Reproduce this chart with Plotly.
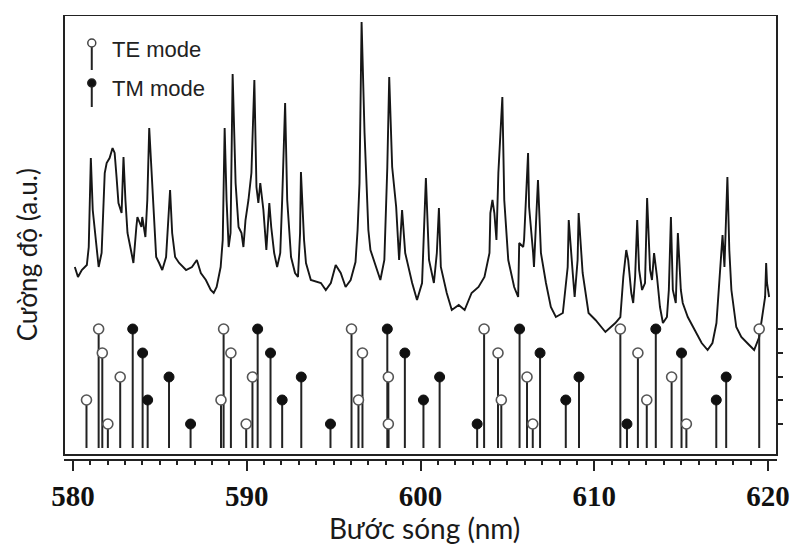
import plotly.graph_objects as go

# ---------------- data ----------------
# Emission spectrum (wavelength in nm, intensity in a.u.)
spec_wl = [580.11, 580.29, 580.51, 580.80, 580.91, 581.03, 581.14, 581.37, 581.48, 581.65,
           581.83, 581.94, 582.11, 582.28, 582.40, 582.51, 582.62, 582.80, 582.91, 583.02,
           583.14, 583.37, 583.48, 583.65, 583.71, 583.94, 583.99, 584.17, 584.28, 584.39,
           584.51, 584.68, 584.79, 584.96, 585.14, 585.36, 585.48, 585.59, 585.71, 585.88,
           586.11, 586.51, 586.85, 587.13, 587.36, 587.65, 587.93, 588.10, 588.27, 588.50,
           588.62, 588.73, 588.84, 588.96, 589.07, 589.19, 589.36, 589.53, 589.70, 589.81,
           589.93, 590.10, 590.27, 590.44, 590.56, 590.67, 590.78, 590.96, 591.13, 591.30,
           591.41, 591.58, 591.75, 591.93, 592.04, 592.21, 592.33, 592.55, 592.78, 592.95,
           593.07, 593.12, 593.30, 593.41, 593.69, 594.27, 594.55, 594.84, 595.12, 595.41,
           595.69, 595.98, 596.26, 596.38, 596.49, 596.61, 596.78, 597.00, 597.12, 597.52,
           597.69, 597.92, 598.09, 598.20, 598.37, 598.60, 598.77, 598.94, 599.12, 599.52,
           599.80, 600.09, 600.20, 600.31, 600.49, 600.77, 600.94, 601.06, 601.17, 601.51,
           601.80, 602.20, 602.54, 602.94, 603.34, 603.68, 603.97, 604.02, 604.14, 604.25,
           604.37, 604.48, 604.71, 604.82, 605.05, 605.39, 605.62, 605.68, 605.91, 605.96,
           606.19, 606.25, 606.48, 606.53, 606.76, 606.93, 607.22, 607.50, 607.79, 608.19,
           608.47, 608.53, 608.76, 608.87, 609.04, 609.10, 609.33, 609.67, 610.07, 610.64,
           611.21, 611.50, 611.67, 611.84, 611.95, 612.13, 612.24, 612.35, 612.47, 612.58,
           612.75, 612.92, 613.04, 613.21, 613.32, 613.44, 613.61, 613.78, 613.95, 614.18,
           614.29, 614.41, 614.52, 614.69, 614.81, 614.98, 615.09, 615.38, 615.78, 616.18,
           616.52, 616.80, 617.03, 617.20, 617.38, 617.49, 617.66, 617.77, 617.89, 618.17,
           618.46, 618.80, 619.20, 619.49, 619.66, 619.83, 619.89, 619.94, 620.06]
spec_int = [47.0, 44.5, 46.25, 47.5, 52.0, 74.25, 61.25, 50.5, 47.0, 50.5,
            70.5, 73.0, 74.25, 76.75, 75.5, 69.5, 63.0, 60.5, 74.5, 63.75,
            55.5, 50.5, 48.0, 57.0, 59.5, 57.0, 59.5, 54.5, 63.75, 81.75,
            72.0, 55.5, 49.5, 48.0, 46.25, 49.5, 57.0, 66.25, 55.5, 49.5,
            48.0, 46.25, 47.0, 48.75, 45.5, 43.75, 41.25, 40.5, 42.0, 47.0,
            53.75, 81.75, 63.75, 52.0, 55.5, 95.25, 68.0, 57.0, 55.5, 52.0,
            58.75, 63.75, 70.5, 93.75, 67.0, 63.0, 68.0, 61.25, 51.25, 63.0,
            57.0, 50.5, 47.0, 50.5, 63.75, 88.0, 63.75, 49.5, 45.5, 44.5,
            55.5, 70.75, 53.75, 48.0, 43.75, 43.0, 41.25, 43.0, 47.5, 45.5,
            42.0, 43.75, 48.25, 56.25, 68.0, 108.25, 80.5, 56.25, 51.25, 46.25,
            43.75, 48.75, 72.0, 94.5, 72.0, 62.0, 48.75, 61.25, 50.5, 43.0,
            38.75, 43.0, 55.5, 69.25, 48.75, 43.0, 50.5, 61.75, 47.0, 40.5,
            36.25, 37.5, 36.25, 40.5, 42.0, 44.5, 50.5, 60.5, 63.75, 60.5,
            53.75, 70.5, 89.5, 63.75, 48.75, 42.0, 39.5, 53.0, 52.0, 53.75,
            75.5, 62.0, 50.5, 47.0, 68.75, 50.5, 43.0, 37.0, 34.5, 35.5,
            47.0, 58.75, 45.5, 39.5, 48.75, 60.5, 45.5, 35.5, 33.75, 30.75,
            33.0, 34.5, 44.5, 51.25, 48.75, 40.5, 38.0, 44.5, 58.75, 46.25,
            41.25, 43.0, 64.25, 46.25, 43.75, 50.5, 44.5, 37.0, 33.0, 34.5,
            41.25, 59.5, 41.25, 38.0, 55.5, 41.25, 38.0, 34.5, 31.25, 28.0,
            26.25, 28.0, 33.0, 43.0, 55.0, 47.0, 69.5, 51.25, 41.25, 32.0,
            29.5, 28.0, 26.25, 29.5, 34.5, 39.5, 48.0, 43.0, 39.5]

# Calculated mode positions (nm) and their row (1 = lowest, 5 = highest)
te_wl = [580.78, 581.48, 581.69, 582.01, 582.72, 588.52, 588.67, 589.09, 589.97, 590.33,
         596.03, 596.43, 596.66, 598.15, 598.15, 603.66, 604.46, 604.65, 606.13, 606.46,
         611.50, 612.51, 613.02, 614.45, 615.30, 619.49]
te_row = [2, 5, 4, 1, 3, 2, 5, 4, 1, 3,
          5, 2, 4, 3, 1, 5, 4, 2, 3, 1,
          5, 4, 2, 3, 1, 5]
tm_wl = [583.44, 584.01, 584.30, 585.53, 586.77, 590.63, 591.37, 592.04, 593.14, 594.82,
         598.09, 599.10, 600.17, 601.10, 603.26, 605.70, 606.88, 608.36, 609.12, 611.88,
         613.54, 615.02, 617.02, 617.59]
tm_row = [5, 4, 2, 3, 1, 5, 4, 2, 3, 1,
          5, 4, 2, 3, 1, 5, 4, 2, 3, 1,
          5, 4, 2, 3]
row_height = {1: 7.75, 2: 13.75, 3: 19.5, 4: 25.5, 5: 31.5}   # a.u.
stem_base = 1.75

x_ticks = [580, 590, 600, 610, 620]
x_range = [579.486, 620.514]
y_range = [-1, 110]

INK = "#161616"


def stems(wls, rows):
    xs, ys = [], []
    for w, r in zip(wls, rows):
        xs += [w, w, None]
        ys += [stem_base, row_height[r], None]
    return xs, ys


fig = go.Figure()

fig.add_trace(go.Scatter(x=spec_wl, y=spec_int, mode="lines",
                         line=dict(color=INK, width=1.9), showlegend=False))

for wls, rows in ((te_wl, te_row), (tm_wl, tm_row)):
    sx, sy = stems(wls, rows)
    fig.add_trace(go.Scatter(x=sx, y=sy, mode="lines",
                             line=dict(color="#222", width=2), showlegend=False))

fig.add_trace(go.Scatter(x=te_wl, y=[row_height[r] for r in te_row], mode="markers",
                         marker=dict(symbol="circle", size=10, color="white",
                                     line=dict(color="#555", width=1.6)),
                         showlegend=False))
fig.add_trace(go.Scatter(x=tm_wl, y=[row_height[r] for r in tm_row], mode="markers",
                         marker=dict(symbol="circle", size=10, color="#111",
                                     line=dict(color="#111", width=1)),
                         showlegend=False))

# ---------------- layout ----------------
L, R, T, B = 64, 19, 15, 88
W, H = 802, 547
pw, ph = W - L - R, H - T - B


def px2paper(px, py):
    return (px - L) / pw, (H - B - py) / ph


shapes = [
    dict(type="rect", xref="paper", yref="y", x0=0, x1=1, y0=0, y1=y_range[1],
         line=dict(color="#222", width=2), layer="above"),
]
# legend glyphs
for (cx, cy, stem_end, filled) in ((92, 43, 70, False), (92, 83, 107, True)):
    ax, ay = px2paper(cx, cy)
    bx, by = px2paper(cx, stem_end)
    shapes.append(dict(type="line", xref="paper", yref="paper", x0=ax, x1=bx, y0=ay, y1=by,
                       line=dict(color="#222", width=2)))
    shapes.append(dict(type="circle", xref="paper", yref="paper",
                       xsizemode="pixel", ysizemode="pixel", xanchor=ax, yanchor=ay,
                       x0=-4, x1=4, y0=-4, y1=4,
                       fillcolor="#111" if filled else "white",
                       line=dict(color="#222" if filled else "#444", width=1.5)))

annotations = []
for txt, ty in (("TE mode", 49), ("TM mode", 88)):
    ax, ay = px2paper(110, ty)
    annotations.append(dict(text=txt, xref="paper", yref="paper", x=ax, y=ay,
                            xanchor="left", yanchor="middle", showarrow=False,
                            font=dict(family="Liberation Sans", size=22, color="#222")))

ax, ay = px2paper(428, 528)
annotations.append(dict(text="Bước sóng (nm)", xref="paper", yref="paper", x=ax, y=ay,
                        xanchor="center", yanchor="middle", showarrow=False,
                        font=dict(family="Lato", size=28, color="#1a1a1a")))
ax, ay = px2paper(27, 255)
annotations.append(dict(text="Cường độ (a.u.)", xref="paper", yref="paper", x=ax, y=ay,
                        xanchor="center", yanchor="middle", showarrow=False, textangle=-90,
                        font=dict(family="Lato", size=26, color="#1a1a1a")))

fig.update_layout(
    width=W, height=H,
    margin=dict(l=L, r=R, t=T, b=B, pad=0),
    paper_bgcolor="white", plot_bgcolor="white",
    showlegend=False,
    shapes=shapes,
    annotations=annotations,
    xaxis=dict(range=x_range, tickvals=x_ticks, ticks="outside", ticklen=10, tickwidth=2,
               tickcolor="#222", showline=True, linecolor="#222", linewidth=2,
               showgrid=False, zeroline=False,
               tickfont=dict(family="Liberation Serif", size=29, color="#111", weight="bold"),
               minor=dict(dtick=1, tick0=580, ticks="outside", ticklen=4, tickwidth=1.5,
                          tickcolor="#222", showgrid=False)),
    xaxis2=dict(range=x_range, overlaying="x", anchor="y", side="bottom", dtick=5, tick0=580,
                ticks="outside", ticklen=7, tickwidth=1.5, tickcolor="#222",
                showticklabels=False, showline=False, showgrid=False, zeroline=False),
    yaxis=dict(range=y_range, side="right", tickvals=list(row_height.values()),
               ticks="outside", ticklen=5, tickwidth=1.5, tickcolor="#222",
               showticklabels=False, showline=False, showgrid=False, zeroline=False),
    yaxis2=dict(range=y_range, overlaying="y", anchor="x", side="right",
                tickvals=list(row_height.values()),
                ticks="inside", ticklen=5, tickwidth=1.5, tickcolor="#222",
                showticklabels=False, showline=False, showgrid=False, zeroline=False),
)

fig.write_html("out.html")
